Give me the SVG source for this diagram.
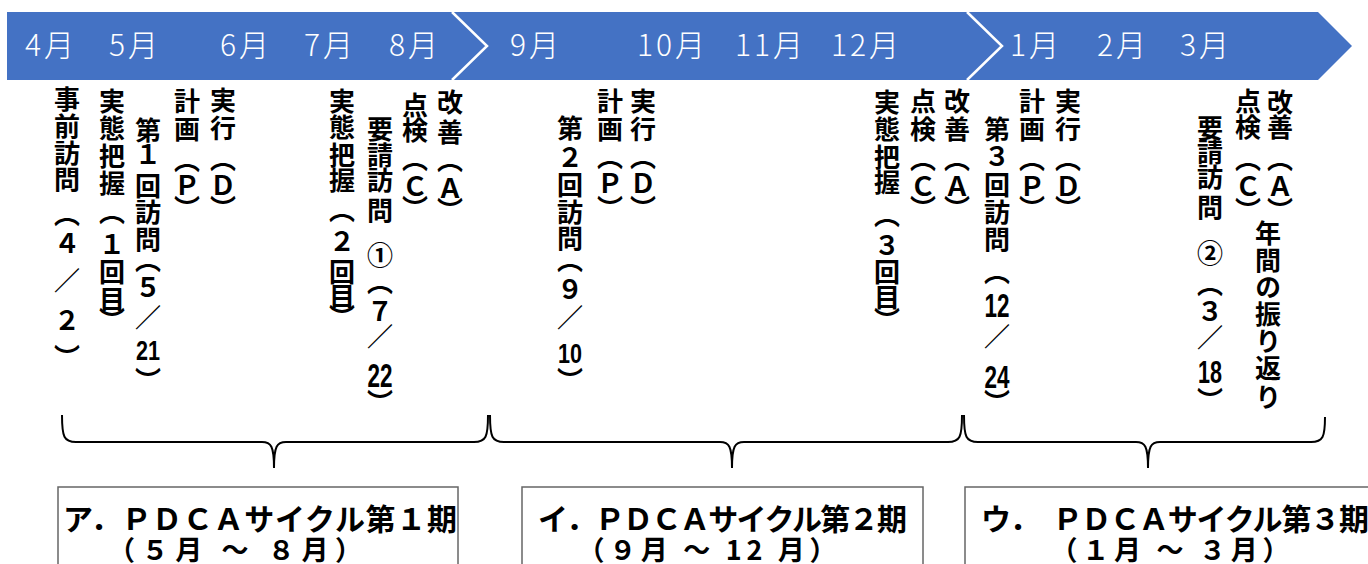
<svg xmlns="http://www.w3.org/2000/svg" width="1368" height="564" viewBox="0 0 1368 564">
<style>
.m{font-family:"Noto Sans CJK JP","Noto Sans",sans-serif;font-weight:300;font-size:30px;letter-spacing:3px;fill:#fff}
.v{font-family:"Noto Sans CJK JP",sans-serif;font-weight:700;font-size:26px;fill:#000;writing-mode:vertical-rl}
.n{font-family:"Liberation Sans",Arial,sans-serif;font-weight:700;fill:#000;text-anchor:middle}
.b{font-family:"Noto Sans CJK JP",sans-serif;font-weight:700;font-size:30px;fill:#000}
.b2{font-family:"Noto Sans CJK JP",sans-serif;font-weight:700;font-size:27px;fill:#000}
.br{fill:none;stroke:#000;stroke-width:2}
.bx{fill:#fff;stroke:#666;stroke-width:1.5}
</style>
<rect width="1368" height="564" fill="#fff"/>
<g id="timeline">
<polygon points="7,12 1318,12 1352,46 1318,80 7,80" fill="#4472C4"/>
<polyline points="452,12 487,46 452,80" fill="none" stroke="#fff" stroke-width="2.5"/>
<polyline points="967,12 1002,46 967,80" fill="none" stroke="#fff" stroke-width="2.5"/>
<text class="m" x="25" y="56">4月</text>
<text class="m" x="109" y="56">5月</text>
<text class="m" x="220" y="56">6月</text>
<text class="m" x="304" y="56">7月</text>
<text class="m" x="389" y="56">8月</text>
<text class="m" x="510" y="56">9月</text>
<text class="m" x="637" y="56">10月</text>
<text class="m" x="735" y="56">11月</text>
<text class="m" x="831" y="56">12月</text>
<text class="m" x="1010" y="56">1月</text>
<text class="m" x="1097" y="56">2月</text>
<text class="m" x="1180" y="56">3月</text>
</g>
<g id="labels-1">
<text class="v" x="67" y="86 113 140 166 201 230 267 307 344">事前訪問（４／２）</text>
<text class="v" x="112" y="88 115 143 170 199 231 259 286 307">実態把握（１回目）</text>
<text class="v" x="148" y="117 141 173 199 226 247 275 304 367">第１回訪問（５／）</text>
<text class="n" x="148" y="360" font-size="28" textLength="24" lengthAdjust="spacingAndGlyphs">21</text>
<text class="v" x="187" y="88 116 147 172 195">計画（Ｐ）</text>
<text class="v" x="223" y="87 115 146 172 195">実行（Ｄ）</text>
<text class="v" x="342" y="88 114 142 167 197 228 259 283 304">実態把握（２回目）</text>
<text class="v" x="380" y="116 142 167 197 242 269 298 323 389">要請訪問①（７／）</text>
<text class="n" x="380" y="387" font-size="34" textLength="25" lengthAdjust="spacingAndGlyphs">22</text>
<text class="v" x="415" y="92 117 146 173 195">点検（Ｃ）</text>
<text class="v" x="450" y="89 119 147 175 197">改善（Ａ）</text>
</g>
<g id="labels-2">
<text class="v" x="570" y="115 144 172 199 225 247 276 304 367">第２回訪問（９／）</text>
<text class="n" x="570" y="363" font-size="28" textLength="24" lengthAdjust="spacingAndGlyphs">10</text>
<text class="v" x="610" y="88 116 144 170 195">計画（Ｐ）</text>
<text class="v" x="643" y="88 116 144 170 195">実行（Ｄ）</text>
<text class="v" x="887" y="89 116 144 169 202 232 259 284 307">実態把握（３回目）</text>
<text class="v" x="923" y="88 116 146 173 195">点検（Ｃ）</text>
<text class="v" x="957" y="88 116 146 173 195">改善（Ａ）</text>
</g>
<g id="labels-3">
<text class="v" x="997" y="116 143 172 199 226 259 323 389">第３回訪問（／）</text>
<text class="n" x="997" y="317" font-size="34" textLength="25" lengthAdjust="spacingAndGlyphs">12</text>
<text class="n" x="997" y="388" font-size="32" textLength="25" lengthAdjust="spacingAndGlyphs">24</text>
<text class="v" x="1032" y="88 116 146 173 195">計画（Ｐ）</text>
<text class="v" x="1068" y="88 116 146 173 195">実行（Ｄ）</text>
<text class="v" x="1210" y="115 139 164 194 240 271 298 324 387">要請訪問②（３／）</text>
<text class="n" x="1210" y="383" font-size="32" textLength="24" lengthAdjust="spacingAndGlyphs">18</text>
<text class="v" x="1248" y="88 114 146 173 197">点検（Ｃ）</text>
<text class="v" x="1280" y="89 114 146 173 197">改善（Ａ）</text>
<text class="v" x="1268" y="220 247 274 301 328 355 384">年間の振り返り</text>
</g>
<g id="connectors">
<path class="br" d="M62,415 C62,437 64,442 76,442 L262,442 C271,442 274,446 274,468 C274,446 277,442 286,442 L474,442 C486,442 488,437 488,415"/>
<path class="br" d="M490,415 C490,437 492,442 504,442 L720,442 C729,442 732,446 732,468 C732,446 735,442 744,442 L948,442 C960,442 962,437 962,415"/>
<path class="br" d="M964,415 C964,437 966,442 978,442 L1136,442 C1145,442 1148,446 1148,468 C1148,446 1151,442 1160,442 L1311,442 C1323,442 1325,437 1325,417"/>
</g>
<g id="phase-1">
<rect class="bx" x="58" y="487" width="400" height="90"/>
<text class="b" x="63" y="530" textLength="394" lengthAdjust="spacing">ア．ＰＤＣＡサイクル第１期</text>
<text class="b2" x="235" y="560" text-anchor="middle" textLength="254" lengthAdjust="spacing">（５月 ～ ８月）</text>
</g>
<g id="phase-2">
<rect class="bx" x="522" y="487" width="401" height="90"/>
<text class="b" x="538" y="530" textLength="369" lengthAdjust="spacing">イ．ＰＤＣＡサイクル第２期</text>
<text class="b2" x="707" y="560" text-anchor="middle" textLength="259" lengthAdjust="spacing">（９月 ～ 12 月）</text>
</g>
<g id="phase-3">
<rect class="bx" x="965" y="487" width="410" height="90"/>
<text class="b" x="981" y="530" textLength="388" lengthAdjust="spacing">ウ．　ＰＤＣＡサイクル第３期</text>
<text class="b2" x="1170" y="560" text-anchor="middle" textLength="239" lengthAdjust="spacing">（１月 ～ ３月）</text>
</g>
</svg>
